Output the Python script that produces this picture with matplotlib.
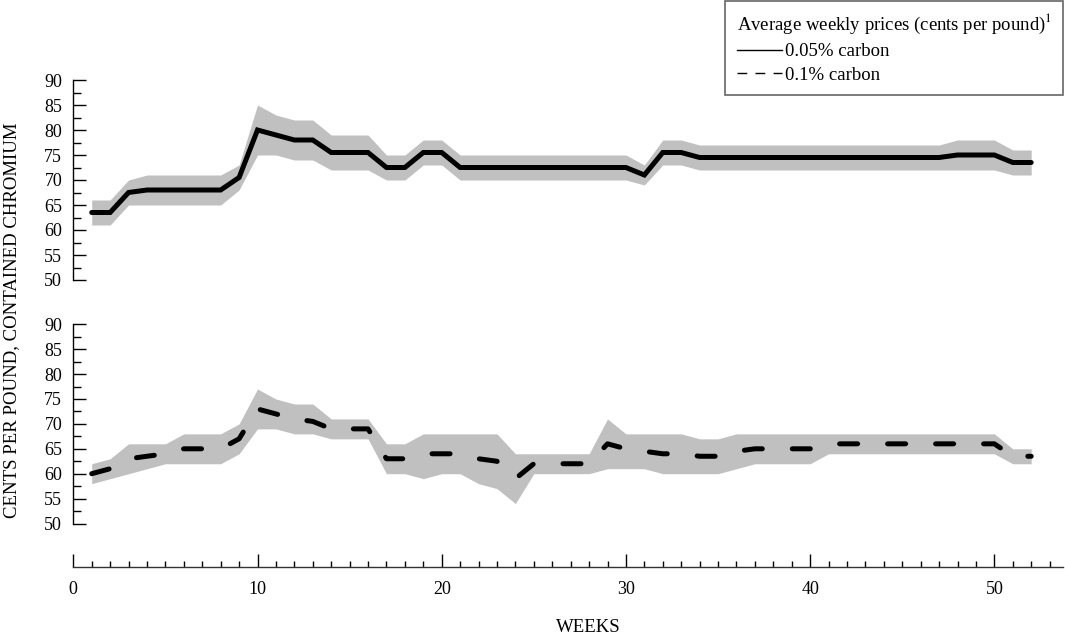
import numpy as np
import matplotlib
matplotlib.use("Agg")
import matplotlib.pyplot as plt
from matplotlib.lines import Line2D
from matplotlib.ticker import MultipleLocator

plt.rcParams['font.family'] = ['Liberation Serif', 'DejaVu Serif']
plt.rcParams['mathtext.fontset'] = 'stix'

# weekly data, weeks 1..52
weeks = np.arange(1, 53)

# 0.05% carbon (top panel): average, weekly high, weekly low
c005_avg = [63.5, 63.5, 67.5, 68, 68, 68, 68, 68, 70.5, 80,
            79, 78, 78, 75.5, 75.5, 75.5, 72.5, 72.5, 75.5, 75.5,
            72.5, 72.5, 72.5, 72.5, 72.5, 72.5, 72.5, 72.5, 72.5, 72.5,
            71, 75.5, 75.5, 74.5, 74.5, 74.5, 74.5, 74.5, 74.5, 74.5,
            74.5, 74.5, 74.5, 74.5, 74.5, 74.5, 74.5, 75, 75, 75,
            73.5, 73.5]
c005_hi = [66, 66, 70, 71, 71, 71, 71, 71, 73, 85,
           83, 82, 82, 79, 79, 79, 75, 75, 78, 78,
           75, 75, 75, 75, 75, 75, 75, 75, 75, 75,
           73, 78, 78, 77, 77, 77, 77, 77, 77, 77,
           77, 77, 77, 77, 77, 77, 77, 78, 78, 78,
           76, 76]
c005_lo = [61, 61, 65, 65, 65, 65, 65, 65, 68, 75,
           75, 74, 74, 72, 72, 72, 70, 70, 73, 73,
           70, 70, 70, 70, 70, 70, 70, 70, 70, 70,
           69, 73, 73, 72, 72, 72, 72, 72, 72, 72,
           72, 72, 72, 72, 72, 72, 72, 72, 72, 72,
           71, 71]

# 0.1% carbon (bottom panel)
c01_avg = [60, 61, 63, 63.5, 64, 65, 65, 65, 67, 73,
           72, 71, 70.5, 69, 69, 69, 63, 63, 64, 64,
           64, 63, 62.5, 59, 62, 62, 62, 62, 66, 65,
           64.5, 64, 64, 63.5, 63.5, 64.5, 65, 65, 65, 65,
           66, 66, 66, 66, 66, 66, 66, 66, 66, 66,
           63.5, 63.5]
c01_hi = [62, 63, 66, 66, 66, 68, 68, 68, 70, 77,
          75, 74, 74, 71, 71, 71, 66, 66, 68, 68,
          68, 68, 68, 64, 64, 64, 64, 64, 71, 68,
          68, 68, 68, 67, 67, 68, 68, 68, 68, 68,
          68, 68, 68, 68, 68, 68, 68, 68, 68, 68,
          65, 65]
c01_lo = [58, 59, 60, 61, 62, 62, 62, 62, 64, 69,
          69, 68, 68, 67, 67, 67, 60, 60, 59, 60,
          60, 58, 57, 54, 60, 60, 60, 60, 61, 61,
          61, 60, 60, 60, 60, 61, 62, 62, 62, 62,
          64, 64, 64, 64, 64, 64, 64, 64, 64, 64,
          62, 62]

y_ticks = [50, 55, 60, 65, 70, 75, 80, 85, 90]
x_ticks = [0, 10, 20, 30, 40, 50]

FS = 13.5
TICK_FS = 13
BAND = '#c0c0c0'
XMAX = 53.7

fig = plt.figure(figsize=(10.65, 6.34), dpi=100)

left = 73.3 / 1065
width = 989.2 / 1065
ax_top = fig.add_axes([left, (634 - 280) / 634, width, 200 / 634])
ax_bot = fig.add_axes([left, (634 - 523.5) / 634, width, 199.2 / 634])
ax_x = fig.add_axes([left, (634 - 567) / 634, width, 0.001])


def style_panel(ax):
    for s in ['top', 'right', 'bottom']:
        ax.spines[s].set_visible(False)
    ax.spines['left'].set_linewidth(1.0)
    ax.set_xlim(0, XMAX)
    ax.set_ylim(50, 90)
    ax.set_yticks(y_ticks)
    ax.yaxis.set_minor_locator(MultipleLocator(2.5))
    ax.tick_params(axis='y', which='major', direction='in', length=9,
                   width=1.0, labelsize=TICK_FS, pad=8)
    ax.tick_params(axis='y', which='minor', direction='in', length=5.5,
                   width=1.0)
    ax.set_xticks([])
    ax.patch.set_visible(False)


style_panel(ax_top)
style_panel(ax_bot)

ax_top.fill_between(weeks, c005_lo, c005_hi, color=BAND, lw=0)
ax_top.plot(weeks, c005_avg, color='black', lw=3.6,
            solid_capstyle='round', solid_joinstyle='miter')

ax_bot.fill_between(weeks, c01_lo, c01_hi, color=BAND, lw=0)
ax_bot.plot(weeks, c01_avg, color='black', lw=3.6, dashes=(3.6, 6.0),
            dash_capstyle='round', dash_joinstyle='round')

# shared x axis drawn on its own
for s in ['top', 'right', 'left']:
    ax_x.spines[s].set_visible(False)
ax_x.spines['bottom'].set_linewidth(1.0)
ax_x.spines['bottom'].set_color('#333333')
ax_x.set_xlim(0, XMAX)
ax_x.set_yticks([])
ax_x.set_xticks(x_ticks)
ax_x.xaxis.set_minor_locator(MultipleLocator(1))
ax_x.tick_params(axis='x', which='major', direction='in', length=9.5,
                 width=1.0, labelsize=TICK_FS, pad=10)
ax_x.tick_params(axis='x', which='minor', direction='in', length=4.5,
                 width=1.0)
ax_x.patch.set_visible(False)

fig.text(588 / 1065, 1 - 627 / 634, 'WEEKS', ha='center', va='center',
         fontsize=FS)
fig.text(12 / 1065, 1 - 320 / 634, 'CENTS PER POUND, CONTAINED CHROMIUM',
         rotation=90, ha='center', va='center', fontsize=FS)

handles = [Line2D([], [], color='black', lw=1.0),
           Line2D([], [], color='black', lw=1.0, dashes=(7, 6))]
leg = fig.legend(handles, ['0.05% carbon', '0.1% carbon'],
                 title='Average weekly prices (cents per pound)$^{1}$',
                 loc='upper right', bbox_to_anchor=(1063 / 1065, 633 / 634),
                 fontsize=FS, title_fontsize=FS, frameon=True,
                 fancybox=False, edgecolor='#666666', framealpha=1,
                 handlelength=2.4, handletextpad=0.2, labelspacing=0.35,
                 borderpad=0.6, alignment='left', borderaxespad=0)
leg.get_frame().set_linewidth(1.2)

fig.savefig('out.png', dpi=100)
